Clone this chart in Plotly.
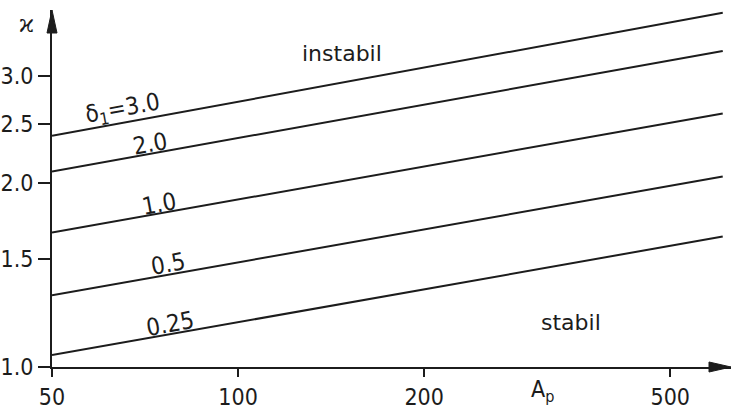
import numpy as np
import plotly.graph_objects as go

# Stability boundaries kappa(A_p) for several delta_1 values (log-log chart)
delta_labels = ["δ<sub>1</sub>=3.0", "2.0", "1.0", "0.5", "0.25"]
a_p = [50, 608]
kappa_d30 = [2.39, 3.80]
kappa_d20 = [2.09, 3.29]
kappa_d10 = [1.66, 2.60]
kappa_d05 = [1.31, 2.05]
kappa_d025 = [1.046, 1.635]
series = [kappa_d30, kappa_d20, kappa_d10, kappa_d05, kappa_d025]

# where each curve label sits (A_p, kappa)
label_a = [65.0, 71.9, 74.6, 77.1, 77.5]
label_k = [2.644, 2.321, 1.849, 1.473, 1.178]

x_ticks = [50, 100, 200, 500]
y_ticks = [1.0, 1.5, 2.0, 2.5, 3.0]
y_ticktext = ["1.0", "1.5", "2.0", "2.5", "3.0"]

INK = "#1c1c1c"
NUM_FONT = "Liberation Sans Narrow, DejaVu Sans Condensed, Arial Narrow, sans-serif"
WORD_FONT = "DejaVu Sans, Verdana, sans-serif"

fig = go.Figure()
for k in series:
    fig.add_trace(go.Scatter(x=a_p, y=k, mode="lines",
                             line=dict(color=INK, width=2), showlegend=False,
                             hoverinfo="skip"))

angle = -10.4
for text, xa, yk in zip(delta_labels, label_a, label_k):
    fig.add_annotation(x=np.log10(xa), y=np.log10(yk), text=text, showarrow=False,
                       textangle=angle, font=dict(family=NUM_FONT, size=24, color=INK))

fig.add_annotation(x=np.log10(147), y=np.log10(3.26), text="instabil", showarrow=False,
                   font=dict(family=WORD_FONT, size=22, color=INK))
fig.add_annotation(x=np.log10(346), y=np.log10(1.183), text="stabil", showarrow=False,
                   font=dict(family=WORD_FONT, size=22, color=INK))

# axis titles
fig.add_annotation(x=np.log10(311), y=-0.02, yref="paper", yanchor="top",
                   text="A<sub>p</sub>", showarrow=False,
                   font=dict(family=NUM_FONT, size=23, color=INK))
fig.add_annotation(x=0, xref="paper", xanchor="right", xshift=-16, y=np.log10(3.64),
                   text="ϰ", showarrow=False,
                   font=dict(family="DejaVu Serif, serif", size=24, color=INK))

# arrow heads at the ends of both axes
fig.add_shape(type="path", xref="paper", yref="paper", xsizemode="pixel", ysizemode="pixel",
              xanchor=1, yanchor=0, path="M0,0 L-22,5 L-22,-5 Z",
              fillcolor=INK, line=dict(color=INK, width=1))
fig.add_shape(type="path", xref="paper", yref="paper", xsizemode="pixel", ysizemode="pixel",
              xanchor=0, yanchor=1, path="M0,0 L-5,-23 L5,-23 Z",
              fillcolor=INK, line=dict(color=INK, width=1))

fig.update_xaxes(type="log", range=[np.log10(50), np.log10(627)],
                 tickvals=x_ticks, ticktext=[str(v) for v in x_ticks],
                 showline=True, linecolor=INK, linewidth=2, showgrid=False, zeroline=False,
                 ticks="outside", ticklen=8, tickwidth=1.5, tickcolor=INK,
                 tickfont=dict(family=NUM_FONT, size=23, color=INK))
fig.update_yaxes(type="log", range=[0, np.log10(3.84)],
                 tickvals=y_ticks, ticktext=y_ticktext,
                 showline=True, linecolor=INK, linewidth=2, showgrid=False, zeroline=False,
                 ticks="outside", ticklen=12, tickwidth=1.5, tickcolor=INK,
                 tickfont=dict(family=NUM_FONT, size=23, color=INK))

fig.update_layout(width=731, height=410, margin=dict(l=49, r=0, t=10, b=39),
                  plot_bgcolor="white", paper_bgcolor="white", showlegend=False)

fig.write_html("out.html")
